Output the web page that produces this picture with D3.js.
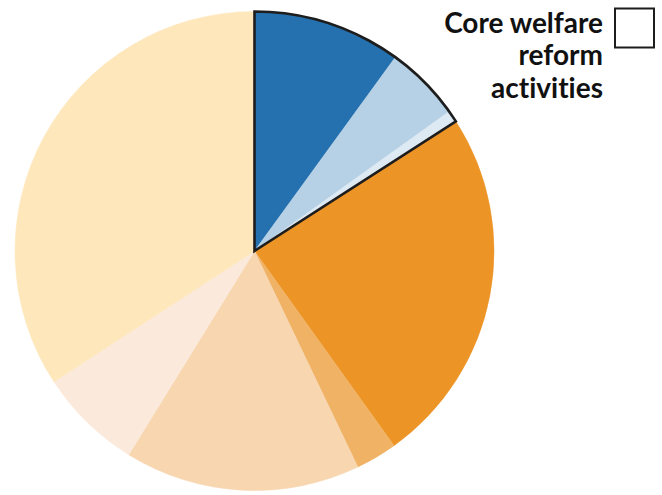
<!DOCTYPE html>
<html>
<head>
<meta charset="utf-8">
<script src="https://cdn.jsdelivr.net/npm/d3@7"></script>
<style>
  html, body { margin: 0; padding: 0; background: #fff; }
  svg { display: block; }
  text { font-variant-ligatures: none; font-feature-settings: "liga" 0, "clig" 0; }
</style>
</head>
<body>
<svg id="chart" width="662" height="495"></svg>
<script>
const categories = [
  "Core activity A", "Core activity B", "Core activity C",
  "Other activity D", "Other activity E", "Other activity F",
  "Other activity G", "Other activity H"
];
const values = [10.0, 5.1, 0.8, 24.2, 2.8, 15.9, 7.0, 34.2];
const colors = ["#2571b0", "#b6d1e5", "#dde9f3", "#ec9426", "#f0b264", "#f7d6b0", "#fbeadb", "#fee7bb"];
const coreGroup = [0, 1, 2];
const legendLines = ["Core welfare", "reform", "activities"];

const svg = d3.select("#chart");
const cx = 254.5, cy = 251, r = 239.5;

const pie = d3.pie().sort(null).value(d => d.value);
const data = categories.map((c, i) => ({ name: c, value: values[i], color: colors[i], idx: i }));
const arcs = pie(data);
const arc = d3.arc().innerRadius(0).outerRadius(r);

const g = svg.append("g").attr("transform", `translate(${cx},${cy})`);
g.selectAll("path.slice")
  .data(arcs)
  .join("path")
  .attr("class", "slice")
  .attr("d", arc)
  .attr("fill", d => d.data.color)
  .attr("stroke", d => d.data.color)
  .attr("stroke-width", 0.5);

// outline around core group
const coreArcs = arcs.filter(a => coreGroup.includes(a.data.idx));
const start = d3.min(coreArcs, a => a.startAngle);
const end = d3.max(coreArcs, a => a.endAngle);
g.append("path")
  .attr("d", d3.arc().innerRadius(0).outerRadius(r)({ startAngle: start, endAngle: end }))
  .attr("fill", "none")
  .attr("stroke", "#1d1d1d")
  .attr("stroke-width", 2.6)
  .attr("stroke-linejoin", "miter");

// legend
const lg = svg.append("g");
lg.append("rect")
  .attr("x", 615).attr("y", 8.5)
  .attr("width", 39).attr("height", 39)
  .attr("fill", "#fff")
  .attr("stroke", "#1d1d1d")
  .attr("stroke-width", 2);
lg.selectAll("text")
  .data(legendLines)
  .join("text")
  .attr("x", 603)
  .attr("y", (d, i) => 32.5 + i * 32.5)
  .attr("text-anchor", "end")
  .attr("font-family", "Lato, sans-serif")
  .attr("font-weight", 700)
  .attr("font-size", 28)
  .attr("fill", "#111")
  .text(d => d);
</script>
</body>
</html>
